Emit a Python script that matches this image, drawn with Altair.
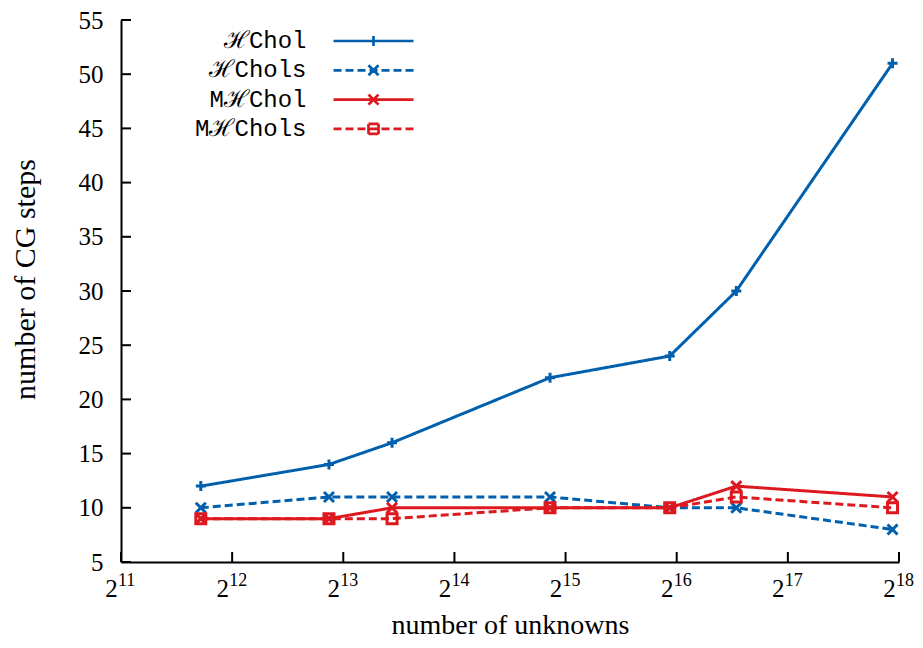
import altair as alt
import pandas as pd

# ---------------- data ----------------
series_names = ["ℋChol", "ℋChols", "MℋChol", "MℋChols"]
n_unknowns = [3369, 7492, 11103, 29740, 62740, 95030, 251800]
hchol = [12, 14, 16, 22, 24, 30, 51]
hchols = [10, 11, 11, 11, 10, 10, 8]
mhchol = [9, 9, 10, 10, 10, 12, 11]
mhchols = [9, 9, 9, 10, 10, 11, 10]

x_tick_values = [2048, 4096, 8192, 16384, 32768, 65536, 131072, 262144]
x_tick_base = "2"
x_tick_exponents = ["11", "12", "13", "14", "15", "16", "17", "18"]
y_tick_values = [5, 10, 15, 20, 25, 30, 35, 40, 45, 50, 55]

series_colors = ["#0060ad", "#0060ad", "#dd181f", "#dd181f"]
series_dashes = [[1, 0], [8, 4], [1, 0], [8, 4]]
marker_paths = [
    "M-1,0L1,0M0,-1L0,1",
    "M-1,-1L1,1M-1,1L1,-1",
    "M-1,-1L1,1M-1,1L1,-1",
    "M-1,-1L1,-1L1,1L-1,1Z",
]
# legend symbols: a line with the marker in its middle (marker split in short
# sub-paths so that the dash pattern leaves it solid)
legend_paths = [
    "M-8,0L8,0M0,-1L0,0M0,0L0,1",
    "M-8,0L8,0M-1,-1L0,0M0,0L1,1M-1,1L0,0M0,0L1,-1",
    "M-8,0L8,0M-1,-1L0,0M0,0L1,1M-1,1L0,0M0,0L1,-1",
    "M-8,0L8,0M-1,-1L0,-1M0,-1L1,-1M1,-1L1,0M1,0L1,1M1,1L0,1M0,1L-1,1M-1,1L-1,0M-1,0L-1,-1",
]

rows = []
for name, vals in zip(series_names, [hchol, hchols, mhchol, mhchols]):
    for n, v in zip(n_unknowns, vals):
        rows.append({"series": name, "n": n, "steps": v})
df = pd.DataFrame(rows)
xt = pd.DataFrame({"n": x_tick_values, "exp": x_tick_exponents})
yt = pd.DataFrame({"steps": y_tick_values})

W, H = 778, 542
SERIF = "Liberation Serif"
MONO = "Liberation Mono"

x_scale = alt.Scale(type="log", base=2, domain=[2048, 262144], nice=False)
y_scale = alt.Scale(domain=[5, 55], nice=False, zero=False)
color_scale = alt.Scale(domain=series_names, range=series_colors)
dash_scale = alt.Scale(domain=series_names, range=series_dashes)

x_axis = alt.Axis(
    values=x_tick_values, labelExpr="'" + x_tick_base + "'", title="number of unknowns",
    grid=False, ticks=False, domainColor="black", domainWidth=2,
    labelFont=SERIF, labelFontSize=25, labelColor="black", labelPadding=14,
    labelFlush=False, labelOverlap=False, labelOffset=-10,
    titleFont=SERIF, titleFontSize=28, titleFontWeight="normal", titleColor="black",
    titleX=W / 2, titleY=71, titleBaseline="alphabetic",
)
y_axis = alt.Axis(
    values=y_tick_values, title="number of CG steps",
    grid=False, ticks=False, domainColor="black", domainWidth=2,
    labelFont=SERIF, labelFontSize=25, labelColor="black", labelPadding=18,
    labelFlush=False, labelOverlap=False,
    titleFont=SERIF, titleFontSize=30, titleFontWeight="normal", titleColor="black",
    titleX=-87, titleY=259, titleBaseline="alphabetic", titleAngle=270,
)

X = alt.X("n:Q", scale=x_scale, axis=x_axis, title="number of unknowns")
Y = alt.Y("steps:Q", scale=y_scale, axis=y_axis, title="number of CG steps")

lines = alt.Chart(df).mark_line(strokeWidth=3).encode(
    x=X, y=Y,
    color=alt.Color("series:N", scale=color_scale, legend=None),
    strokeDash=alt.StrokeDash("series:N", scale=dash_scale, legend=None),
    order=alt.Order("n:Q"),
)

points = alt.Chart(df).mark_point(filled=False, strokeWidth=3, size=100, opacity=1).encode(
    x=X, y=Y,
    color=alt.Color("series:N", scale=color_scale, legend=None),
    shape=alt.Shape("series:N", scale=alt.Scale(domain=series_names, range=marker_paths), legend=None),
)

leg = dict(
    orient="none", legendX=165, legendY=9, title=None, padding=0,
    labelAlign="right", labelOffset={"expr": "-79"}, labelBaseline="middle",
    labelFont=MONO, labelFontSize=24, labelColor="black", labelLimit=400,
    symbolSize=100, symbolStrokeWidth=2.7, rowPadding=5.3, symbolOffset=75.5,
)
legend_layer = alt.Chart(df).transform_filter("false").mark_point(filled=False, strokeWidth=2.7, opacity=1).encode(
    x=X, y=Y,
    color=alt.Color("series:N", scale=color_scale, legend=alt.Legend(**leg)),
    shape=alt.Shape("series:N", scale=alt.Scale(domain=series_names, range=legend_paths), legend=alt.Legend(**leg)),
    strokeDash=alt.StrokeDash("series:N", scale=dash_scale, legend=alt.Legend(**leg)),
)

xticks = alt.Chart(xt).mark_rule(color="black", strokeWidth=2).encode(
    x=X, y=alt.value(H), y2=alt.value(H - 10),
)
yticks = alt.Chart(yt).mark_rule(color="black", strokeWidth=2).encode(
    y=Y, x=alt.value(0), x2=alt.value(10),
)
xexp = alt.Chart(xt).mark_text(
    font=SERIF, fontSize=18, color="black", align="left", baseline="alphabetic", dx=-3,
).encode(
    x=X, y=alt.value(H + 24), text="exp:N",
)

chart = alt.layer(lines, points, legend_layer, xticks, yticks, xexp).resolve_scale(
    color="independent", shape="independent", strokeDash="independent"
).properties(
    width=W, height=H,
    padding={"left": 113, "top": 12, "right": 16, "bottom": 78},
    autosize=alt.AutoSizeParams(type="none"),
    background="white",
).configure_view(stroke=None)

chart.save("out.html", embed_options={"renderer": "svg", "actions": False})
